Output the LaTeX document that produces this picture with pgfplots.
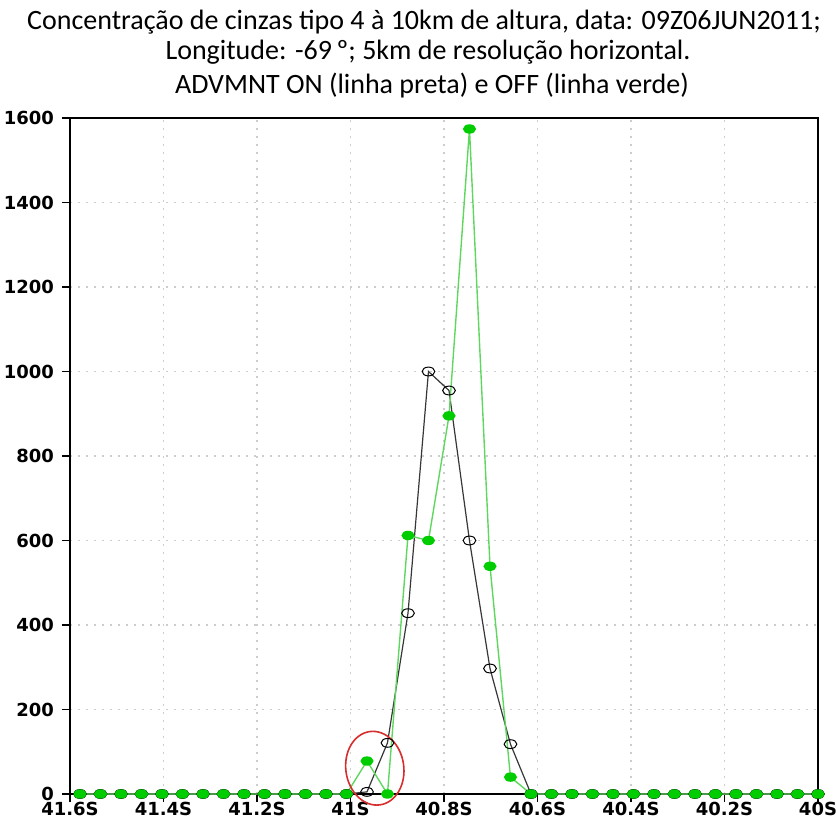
\documentclass[border=0pt]{standalone}
\usepackage{pgfplots}
\pgfplotsset{compat=1.18}
\usepackage{fontspec}
\setmainfont{Carlito}
\newfontfamily\tickfont{DejaVu Sans}
\definecolor{lgreen}{RGB}{95,215,95}
\definecolor{dgreen}{RGB}{0,205,0}
\definecolor{dline}{RGB}{55,55,55}
\definecolor{ered}{RGB}{215,45,45}
\definecolor{gridc}{RGB}{205,205,205}

\pgfplotstableread{
x y
-41.5786 0
-41.5348 0
-41.4909 0
-41.4471 0
-41.4032 0
-41.3594 0
-41.3155 0
-41.2717 0
-41.2278 0
-41.1840 0
-41.1401 0
-41.0963 0
-41.0524 0
-41.0086 0
-40.9647 5
-40.9209 121
-40.8770 428
-40.8332 1000
-40.7893 955
-40.7455 600
-40.7016 297
-40.6578 118
-40.6139 0
-40.5701 0
-40.5262 0
-40.4824 0
-40.4385 0
-40.3947 0
-40.3508 0
-40.3070 0
-40.2631 0
-40.2193 0
-40.1754 0
-40.1316 0
-40.0877 0
-40.0439 0
-40.0000 0
}\advon

\pgfplotstableread{
x y
-41.5786 0
-41.5348 0
-41.4909 0
-41.4471 0
-41.4032 0
-41.3594 0
-41.3155 0
-41.2717 0
-41.2278 0
-41.1840 0
-41.1401 0
-41.0963 0
-41.0524 0
-41.0086 0
-40.9647 78
-40.9209 0
-40.8770 612
-40.8332 600
-40.7893 895
-40.7455 1574
-40.7016 539
-40.6578 40
-40.6139 0
-40.5701 0
-40.5262 0
-40.4824 0
-40.4385 0
-40.3947 0
-40.3508 0
-40.3070 0
-40.2631 0
-40.2193 0
-40.1754 0
-40.1316 0
-40.0877 0
-40.0439 0
-40.0000 0
}\advoff

\begin{document}
\begin{tikzpicture}
\useasboundingbox (0,0) rectangle (418pt,412pt);
\begin{axis}[
  at={(35pt,15pt)}, anchor=south west,
  scale only axis, width=374pt, height=338pt,
  xmin=-41.6, xmax=-40, ymin=0, ymax=1600,
  xtick={-41.6,-41.4,-41.2,-41,-40.8,-40.6,-40.4,-40.2,-40},
  xticklabels={41.6S,41.4S,41.2S,41S,40.8S,40.6S,40.4S,40.2S,40S},
  ytick={0,200,400,600,800,1000,1200,1400,1600},
  yticklabels={0,200,400,600,800,1000,1200,1400,1600},
  tick align=outside, major tick length=4pt,
  xtick pos=bottom, ytick pos=left,
  tick style={black, line width=0.7pt},
  axis line style={black, line width=0.9pt},
  ticklabel style={font=\tickfont\bfseries\fontsize{9}{10}\selectfont, inner sep=0.8pt},
  yticklabel style={xshift=-3pt},
  xticklabel style={yshift=0.8pt},
  grid=major,
  major grid style={gridc, line width=0.6pt, dash pattern=on 1pt off 3pt},
  clip=false,
]
\addplot[dline, line width=0.6pt, mark=o,
  mark options={solid, draw=black, fill=white, line width=0.5pt, xscale=1.45}, mark size=2.2pt]
  table[x=x,y=y]{\advon};
\addplot[lgreen, line width=0.7pt, mark=*,
  mark options={solid, draw=dgreen, fill=dgreen, xscale=1.45}, mark size=2pt]
  table[x=x,y=y]{\advoff};
\draw[ered, line width=0.8pt, rotate around={8:(axis cs:-40.948,61)}] (axis cs:-40.948,61) ellipse [x radius=14.5pt, y radius=18.5pt];
\end{axis}
\node[font=\fontsize{14}{16}\selectfont, anchor=center] at (212pt,401pt) {Concentração de cinzas tipo 4 à 10km de altura, data: 09Z06JUN2011;};
\node[font=\fontsize{14}{16}\selectfont, anchor=center] at (214pt,386pt) {Longitude: -69\,º; 5km de resolução horizontal.};
\node[font=\fontsize{14}{16}\selectfont, anchor=center] at (216pt,369pt) {ADVMNT ON (linha preta) e OFF (linha verde)};
\end{tikzpicture}
\end{document}
